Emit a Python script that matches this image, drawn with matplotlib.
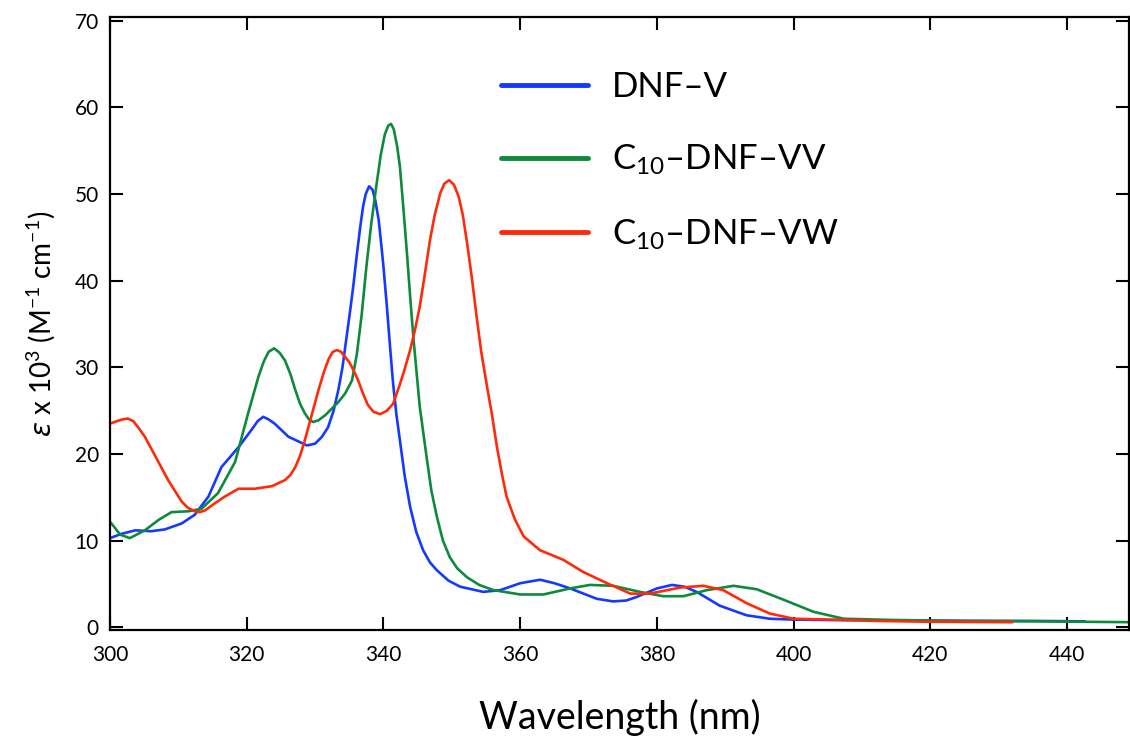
import matplotlib
matplotlib.use("Agg")
import matplotlib.pyplot as plt

plt.rcParams['font.family'] = ['Lato', 'DejaVu Sans']
plt.rcParams['mathtext.fontset'] = 'custom'
plt.rcParams['mathtext.rm'] = 'Lato'
plt.rcParams['mathtext.it'] = 'DejaVu Sans:italic'
plt.rcParams['mathtext.bf'] = 'Lato:bold'

# Absorption spectra (wavelength in nm, molar absorptivity in 10^3 M^-1 cm^-1)
wl_dnf_v = [300.0, 301.7, 303.7, 306.0, 308.0, 310.5, 312.4, 314.4, 316.3, 318.8,
            320.7, 321.6, 322.4, 323.2, 324.1, 326.1, 328.8, 330.0, 331.0, 331.9,
            332.7, 333.4, 334.0, 334.6, 335.2, 335.6, 336.1, 336.6, 337.0, 337.4,
            337.9, 338.4, 338.8, 339.3, 339.7, 340.0, 340.5, 341.0, 341.4, 341.9,
            342.4, 343.1, 343.9, 344.8, 345.8, 346.8, 347.8, 349.5, 351.2, 354.6,
            357.1, 360.0, 362.9, 365.0, 367.3, 371.2, 373.6, 375.5, 377.0, 380.0,
            382.2, 384.0, 385.8, 389.2, 393.1, 396.5, 400.0, 405.0, 415.0, 425.0,
            435.0, 442.6]
eps_dnf_v = [10.3, 10.8, 11.2, 11.1, 11.3, 12.0, 13.0, 15.1, 18.5, 20.8,
             22.8, 23.8, 24.3, 24.0, 23.5, 22.0, 21.0, 21.2, 22.0, 23.1,
             25.0, 27.4, 30.0, 33.5, 37.0, 39.5, 43.0, 46.2, 48.5, 50.0,
             50.9, 50.5, 49.3, 47.0, 44.0, 41.6, 37.0, 32.0, 28.2, 24.5,
             21.6, 17.5, 13.9, 11.0, 8.9, 7.5, 6.6, 5.4, 4.7, 4.1,
             4.3, 5.1, 5.5, 5.1, 4.5, 3.3, 3.0, 3.1, 3.5, 4.5,
             4.9, 4.7, 4.1, 2.5, 1.4, 1.0, 0.9, 0.85, 0.8, 0.75,
             0.75, 0.7]

wl_c10_vv = [300.0, 301.5, 302.9, 305.1, 307.1, 309.0, 311.5, 313.4, 315.8, 318.3,
             320.2, 321.7, 322.5, 323.2, 324.0, 324.8, 325.6, 326.4, 327.1, 327.8,
             328.5, 329.1, 329.7, 330.5, 331.5, 333.4, 334.4, 335.4, 336.1, 336.8,
             337.5, 338.2, 339.0, 339.6, 340.2, 340.7, 341.1, 341.5, 342.0, 342.4,
             342.9, 343.4, 343.9, 344.4, 345.3, 346.3, 347.0, 347.8, 348.7, 349.7,
             350.8, 352.2, 354.0, 356.1, 360.0, 363.4, 367.3, 370.2, 373.6, 377.5,
             380.9, 383.9, 387.3, 391.2, 394.6, 398.5, 402.9, 407.3, 415.0, 425.0,
             435.0, 449.5]
eps_c10_vv = [12.2, 10.7, 10.3, 11.2, 12.4, 13.3, 13.4, 13.7, 15.5, 19.1,
              24.7, 28.9, 30.7, 31.8, 32.2, 31.7, 30.8, 29.2, 27.4, 25.8,
              24.7, 24.0, 23.7, 23.9, 24.5, 26.0, 27.0, 28.5, 31.5, 36.0,
              41.6, 46.5, 51.2, 54.5, 56.9, 57.9, 58.1, 57.5, 55.5, 53.2,
              48.5, 43.5, 38.2, 33.2, 25.5, 19.7, 15.8, 12.8, 10.0, 8.1,
              6.8, 5.8, 4.9, 4.3, 3.8, 3.8, 4.5, 4.9, 4.8, 4.1,
              3.6, 3.6, 4.3, 4.8, 4.4, 3.2, 1.8, 1.0, 0.85, 0.75,
              0.7, 0.6]

wl_c10_vw = [300.0, 301.0, 301.8, 302.6, 303.4, 304.2, 305.1, 306.8, 308.5, 310.5,
             311.4, 312.4, 313.1, 313.9, 315.3, 316.8, 318.8, 321.2, 323.7, 325.6,
             326.4, 327.1, 327.8, 328.5, 329.5, 330.5, 331.3, 332.0, 332.6, 333.2,
             333.8, 334.4, 335.0, 335.6, 336.3, 337.0, 337.7, 338.5, 339.5, 340.5,
             341.4, 342.3, 343.1, 343.9, 344.6, 345.3, 346.0, 346.8, 347.5, 348.3,
             348.9, 349.6, 350.3, 351.0, 351.6, 352.2, 352.9, 353.6, 354.3, 355.1,
             355.9, 356.6, 357.3, 358.0, 359.2, 360.5, 362.9, 366.3, 369.2,
             372.7, 376.1, 379.0, 383.4, 386.8, 389.7, 393.1, 396.5, 400.0, 405.3,
             412.0, 420.0, 432.0]
eps_c10_vw = [23.5, 23.8, 24.0, 24.1, 23.8, 23.0, 22.0, 19.5, 17.0, 14.5,
              13.8, 13.4, 13.3, 13.5, 14.3, 15.1, 16.0, 16.0, 16.3, 17.0,
              17.6, 18.5, 19.8, 21.6, 24.5, 27.4, 29.5, 31.0, 31.8, 32.0,
              31.8, 31.2, 30.6, 29.7, 28.5, 27.0, 25.7, 24.9, 24.6, 25.0,
              25.8, 27.8, 29.8, 32.0, 34.3, 37.0, 40.5, 44.7, 47.6, 50.1,
              51.2, 51.6, 51.1, 49.7, 47.6, 44.5, 40.5, 36.0, 31.8, 28.0,
              24.4, 20.8, 17.8, 15.1, 12.5, 10.5, 8.9, 7.8, 6.4,
              5.1, 3.9, 3.9, 4.6, 4.8, 4.3, 2.8, 1.6, 1.0, 0.9,
              0.75, 0.65, 0.6]

series = [
    (wl_dnf_v, eps_dnf_v, 'DNF\u2013V', '#1639ff'),
    (wl_c10_vv, eps_c10_vv, r'$\mathregular{C_{10}}$' + '\u2013DNF\u2013VV', '#0e8a3c'),
    (wl_c10_vw, eps_c10_vw, r'$\mathregular{C_{10}}$' + '\u2013DNF\u2013VW', '#ff2a0a'),
]

x_ticks = [300, 320, 340, 360, 380, 400, 420, 440]
y_ticks = [0, 10, 20, 30, 40, 50, 60, 70]

fig = plt.figure(figsize=(11.3, 7.4), dpi=100)
ax = fig.add_axes([110 / 1130, 110 / 740, 1018.7 / 1130, 612.7 / 740])

for wl, eps, label, color in series:
    ax.plot(wl, eps, color=color, lw=1.9, label=label,
            solid_joinstyle='round', solid_capstyle='round')

ax.set_xlim(300, 449)
ax.set_ylim(-0.3, 70.4)
ax.set_xticks(x_ticks)
ax.set_yticks(y_ticks)
ax.tick_params(direction='in', length=9.5, width=1.5, top=True, right=True,
               labelsize=15, pad=8)
ax.tick_params(axis='x', pad=11)
for sp in ax.spines.values():
    sp.set_linewidth(1.6)

ax.set_xlabel('Wavelength (nm)', fontsize=27, labelpad=24)
ax.set_ylabel(r'$\varepsilon$ x 10$^{3}$ (M$^{-1}$ cm$^{-1}$)', fontsize=20, labelpad=12)

leg = ax.legend(loc='upper left', bbox_to_anchor=(0.37, 0.935), frameon=False,
                fontsize=25, handlelength=2.5, handletextpad=0.7, labelspacing=1.15,
                borderaxespad=0)
for h in leg.legend_handles:
    h.set_linewidth(3.5)

fig.savefig('out.png', dpi=100)
